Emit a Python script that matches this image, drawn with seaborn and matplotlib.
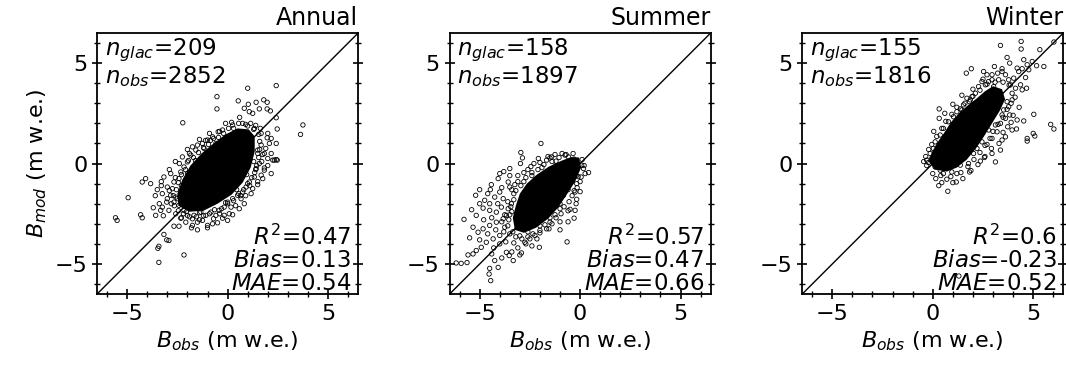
import numpy as np
import pandas as pd
import matplotlib
matplotlib.use("Agg")
import matplotlib.pyplot as plt
import seaborn as sns
from matplotlib.ticker import MultipleLocator

seasons = ["Annual", "Summer", "Winter"]
n_glac = [209, 158, 155]
n_obs = [2852, 1897, 1816]
r2 = ["0.47", "0.57", "0.6"]
bias = ["0.13", "0.47", "-0.23"]
mae = ["0.54", "0.66", "0.52"]

# outline of the region where the markers overlap into solid black
annual_core = [(-2.45, -2.1), (-1.9, -2.4), (-1.2, -2.35), (-0.5, -2.0), (0.2, -1.55),
               (0.75, -0.95), (1.15, -0.2), (1.35, 0.6), (1.35, 1.35), (1.05, 1.7),
               (0.5, 1.75), (-0.1, 1.45), (-0.7, 1.0), (-1.3, 0.5), (-1.85, -0.1),
               (-2.25, -0.8), (-2.5, -1.5)]
summer_core = [(-0.05, 0.3), (0.05, -0.2), (-0.25, -0.9), (-0.7, -1.6), (-1.1, -2.2),
               (-1.6, -2.75), (-2.2, -3.2), (-2.8, -3.45), (-3.25, -3.3), (-3.35, -2.7),
               (-3.2, -2.1), (-3.0, -1.5), (-2.65, -1.0), (-2.15, -0.55), (-1.55, -0.15),
               (-0.9, 0.15), (-0.45, 0.32)]
winter_core = [(-0.2, 0.1), (0.1, -0.3), (0.7, -0.4), (1.2, -0.2), (1.7, 0.2),
               (2.15, 0.75), (2.55, 1.35), (2.95, 2.0), (3.35, 2.65), (3.6, 3.2),
               (3.45, 3.7), (3.0, 3.85), (2.6, 3.6), (2.2, 3.25), (1.75, 2.9),
               (1.3, 2.5), (0.9, 2.05), (0.55, 1.5), (0.2, 1.0), (-0.05, 0.55)]

# individual points (B_obs, B_mod)
annual_pts = [
    (0.25, 1.92), (-0.25, 1.67), (-0.47, 1.58), (0.75, 2.0), (1.0, 1.87), (1.33, 1.75),
    (1.63, 1.75), (1.67, 1.5), (1.97, 1.28), (2.17, 1.25), (2.08, 1.0), (2.42, 1.0),
    (2.47, 1.72), (1.67, 0.92), (1.5, 0.67), (1.83, 0.5), (2.17, 0.5), (2.0, 0.25),
    (2.33, 0.17), (2.47, 0.17), (1.58, 0.0), (1.83, -0.22), (1.42, -0.25), (1.67, -0.58),
    (1.33, -0.67), (1.08, -0.92), (1.25, -1.25), (0.92, -1.17), (0.75, -1.42), (0.5, -1.58),
    (0.25, -1.75), (0.67, -1.75), (0.0, -1.92), (0.17, -2.17), (-0.17, -2.17), (-0.42, -2.33),
    (0.08, -2.5), (-0.17, -2.58), (-0.58, -2.58), (-0.83, -2.42), (-1.08, -2.58), (-1.33, -2.42),
    (-1.67, -2.58), (-1.25, -2.83), (-0.75, -3.0), (-1.0, -3.08), (-1.5, -2.92), (-1.75, -2.75),
    (-2.0, -2.58), (-2.17, -2.33), (-2.42, -2.08), (-2.67, -1.92), (-2.58, -1.67), (-2.83, -1.58),
    (-3.0, -1.75), (-2.75, -1.25), (-3.0, -1.17), (-2.67, -0.92), (-2.42, -0.75), (-2.83, -0.5),
    (-3.17, -0.67), (-2.33, -0.42), (-2.17, -0.17), (-2.0, 0.08), (-2.25, 0.33), (-1.83, 0.42),
    (-1.58, 0.67), (-1.75, 0.83), (-1.5, 0.92), (-1.25, 1.0), (-1.17, 0.75), (-1.0, 1.17),
    (-0.75, 1.33), (-0.58, 1.0),
    (-2.23, 2.03), (-0.53, 2.72), (-0.53, 3.33), (0.53, 3.12), (1.0, 3.75), (2.42, 3.88),
    (0.83, 2.75), (1.03, 2.95), (1.42, 3.05), (1.58, 2.72), (1.8, 3.17), (1.97, 3.05),
    (1.08, 2.58), (1.25, 2.5), (1.97, 2.72), (2.13, 2.62), (2.42, 2.28), (3.75, 1.92),
    (3.63, 1.45),
    (-3.25, -1.5), (-3.03, -1.92), (-3.25, -2.17), (-2.92, -2.33), (-2.58, -2.5), (-2.33, -2.72),
    (-2.08, -2.92), (-1.75, -3.08), (-0.5, -2.95), (-0.25, -2.72), (0.0, -2.83), (0.25, -2.55),
    (0.58, -2.25), (0.83, -2.0), (1.17, -1.5), (1.5, -1.05), (1.75, -0.75), (2.17, -0.5),
    (-4.25, -0.92), (-4.08, -0.75), (-3.83, -1.0), (-4.95, -1.7), (-5.58, -2.7), (-5.5, -2.83),
    (-4.33, -2.55), (-4.25, -2.7), (-3.58, -2.58), (-3.33, -2.33), (-3.17, -3.53), (-3.03, -3.8),
    (-2.92, -3.83), (-3.42, -4.12), (-3.47, -4.22), (-3.42, -4.92), (-2.17, -4.55), (-2.67, -3.12),
    (-2.42, -3.12), (2.25, 0.17), (2.42, 0.2), (1.83, -0.33), (-3.3, -0.9), (-3.5, -1.3),
    (-3.6, -1.6), (-3.4, -2.0), (-3.7, -2.2), (-3.2, -2.6), (-1.8, -3.2), (-1.5, -3.3),
    (-1.0, -3.2),
    (-0.3, -2.25), (0.0, -2.0), (0.3, -1.85), (0.55, -1.5), (0.8, -1.3), (1.0, -1.0),
    (1.2, -0.7), (1.35, -0.45), (1.45, -0.1), (1.55, 0.3), (1.6, 0.7), (1.6, 1.1),
    (1.55, 1.45), (1.4, 1.9), (1.15, 2.0), (0.9, 1.95), (0.55, 2.0), (0.3, 1.75),
    (0.05, 1.75), (-0.2, 1.5), (-0.45, 1.3), (-0.7, 1.25), (-0.95, 0.95), (-1.2, 0.8),
    (-1.45, 0.55), (-1.7, 0.3), (-1.95, 0.15), (-2.1, -0.3), (-2.3, -0.55), (-2.45, -0.95),
    (-2.55, -1.3), (-2.7, -1.6), (-2.65, -2.1), (-2.45, -2.35), (-2.2, -2.5), (-1.9, -2.65),
    (-1.55, -2.65), (-1.2, -2.6), (-0.9, -2.5), (-0.65, -2.3), (0.45, -1.3), (0.95, -0.55),
    (1.3, 0.1), (1.5, 0.5), (-0.85, 1.15), (-1.6, 0.15), (-2.0, -0.5), (-2.3, -1.1),
    (-2.5, -1.75), (-2.05, -2.4), (-1.4, -2.45), (-0.1, -1.95), (0.65, -1.6), (1.1, -1.1),
    (1.4, -0.3), (1.7, 0.1), (1.75, 0.45), (1.3, 1.7), (0.2, 2.05), (-0.4, 1.6),
    (-1.1, 1.15), (-1.9, 0.5), (-2.4, 0.0), (-2.6, -0.7), (-2.9, -1.35), (-2.8, -2.0),
    (-2.3, -2.7), (-1.4, -2.8), (-0.7, -2.75), (-0.4, -2.5), (0.4, -2.1), (0.9, -1.6),
    (1.5, -0.9), (2.0, -0.1), (1.9, 0.75), (2.0, 1.5), (0.6, 2.3), (-0.1, 2.0),
    (-0.9, 1.5), (-1.4, 1.2), (-2.0, 0.7), (-2.6, 0.1), (-2.9, -0.3), (-3.3, -1.1),
]
summer_pts = [
    (-1.95, 1.0), (-2.95, 0.55), (-2.87, 0.28), (-2.97, 0.0), (-2.08, 0.25), (-1.67, 0.17),
    (-1.5, 0.28), (-1.42, 0.33), (-1.2, 0.12), (-0.75, 0.42), (-0.58, 0.33), (-0.3, 0.22),
    (0.08, -0.08), (0.42, -0.45), (0.17, -0.25), (0.05, -0.67), (-0.17, -1.0), (-0.25, -1.42),
    (-0.17, -1.78), (-0.25, -2.33), (-0.3, -2.72), (-0.5, -2.28), (-0.83, -1.58), (-1.0, -2.25),
    (-1.25, -2.55), (-1.5, -2.92), (-2.03, -4.17), (-1.67, -3.25), (-2.0, -3.33), (-2.25, -3.58),
    (-2.5, -3.75), (-2.75, -3.92), (-2.92, -4.45), (-3.0, -4.55), (-3.33, -4.83), (-3.53, -4.58),
    (-3.67, -4.42), (-4.5, -5.22), (-4.53, -5.5), (-4.45, -5.83), (-4.08, -5.17), (-4.25, -4.83),
    (-3.9, -4.7),
    (-4.0, -0.5), (-4.08, -0.75), (-4.42, -1.05), (-4.47, -1.3), (-5.0, -1.3), (-5.2, -1.58),
    (-5.78, -2.78), (-4.75, -1.83), (-4.5, -2.0), (-4.83, -2.22), (-4.25, -1.67), (-3.83, -1.75),
    (-4.0, -1.42), (-3.58, -0.92), (-3.5, -1.17), (-3.25, -1.05), (-3.92, -2.17), (-4.17, -2.42),
    (-4.5, -2.33), (-5.17, -2.58), (-5.33, -3.17), (-5.08, -3.42), (-4.83, -3.25), (-4.5, -3.08),
    (-4.17, -2.92), (-3.83, -2.75), (-3.67, -2.58), (-3.58, -2.25), (-3.42, -2.0), (-3.75, -3.17),
    (-4.0, -3.58), (-4.33, -3.75), (-4.67, -3.92), (-4.92, -4.17), (-5.17, -4.33), (-5.33, -4.5),
    (-5.58, -4.55), (-6.17, -4.95), (-5.92, -4.97), (-5.63, -4.93), (-0.65, -3.9),
    (-3.3, -1.5), (-3.4, -2.4), (-3.35, -3.4), (-3.0, -3.6), (-2.6, -3.4), (-2.0, -3.1),
    (-1.5, -2.7), (-1.0, -2.0), (-0.6, -1.3), (-0.2, -0.6), (-2.4, -0.6), (-2.8, -0.9),
    (-1.9, -0.2), (-1.2, -0.1), (-3.1, -0.6), (-2.6, -0.3), (-2.3, 0.0), (-3.5, -0.25),
    (0.2, -0.1), (0.25, -0.5), (0.0, -0.9), (-0.15, -1.2), (-0.4, -1.6), (-0.55, -1.9),
    (-0.8, -2.15), (-0.95, -2.5), (-1.2, -2.7), (-1.4, -3.0), (-1.75, -3.05), (-2.0, -3.45),
    (-2.35, -3.5), (-2.6, -3.65), (-2.9, -3.75), (-3.2, -3.65), (-3.5, -3.5), (-3.6, -3.1),
    (-3.55, -2.8), (-3.5, -2.55), (-3.45, -2.15), (-3.3, -1.8), (-3.2, -1.35), (-2.95, -1.1),
    (-2.7, -0.7), (-2.4, -0.45), (-2.1, -0.3), (-1.8, -0.05), (-1.4, 0.1), (-1.05, 0.3),
    (-0.7, 0.45), (-0.35, 0.5), (0.1, 0.2), (-0.1, -0.65), (-0.3, -1.35), (-0.6, -2.35),
    (-1.0, -2.9), (-1.55, -3.25), (-2.15, -3.75), (-2.7, -4.0), (-3.3, -3.95), (-3.8, -3.4),
    (-3.75, -2.55), (-3.6, -1.9), (-3.4, -1.3), (-3.1, -0.9), (-2.8, -0.45), (-2.45, -0.15),
    (-2.0, 0.05), (-1.6, 0.35), (-1.25, 0.45), (-0.9, 0.5), (-3.9, -2.9), (-4.2, -3.3),
    (-4.4, -2.7), (-4.1, -2.0), (-3.9, -1.2), (-4.6, -3.5), (-4.8, -2.8), (-4.3, -4.2),
    (-3.7, -3.9), (-3.1, -4.2), (-2.4, -4.1), (-3.5, -0.6), (-3.8, -0.4), (-4.6, -1.5),
    (-5.0, -2.0), (-5.4, -2.3), (-5.5, -3.7), (-5.0, -3.8), (-4.4, -4.5), (-4.0, -4.0),
    (-3.4, -4.4), (-1.0, -3.3), (-0.6, -2.9), (-0.2, -2.0), (0.0, -1.4),
]
winter_pts = [
    (1.7, 3.25), (1.95, 3.33), (1.83, 3.08), (2.28, 3.83), (2.45, 4.08), (2.62, 3.92),
    (2.78, 4.08), (2.95, 4.17), (3.03, 3.83), (3.28, 4.17), (3.45, 4.58), (3.62, 4.42),
    (3.78, 4.17), (3.87, 3.92), (4.03, 4.25), (4.12, 3.75), (4.37, 3.92), (4.45, 3.67),
    (4.67, 3.75), (4.28, 4.58), (4.2, 4.75), (4.45, 4.72), (4.7, 4.92), (4.78, 4.67),
    (4.62, 4.28), (3.45, 4.72), (3.23, 4.5), (3.07, 4.83), (2.53, 4.58), (2.7, 4.42),
    (2.95, 4.42), (1.92, 4.72), (1.67, 4.5), (3.7, 5.28), (3.83, 5.0), (3.37, 5.88),
    (4.4, 6.08), (4.4, 5.7), (5.33, 5.67), (6.03, 6.05), (4.53, 5.17), (4.95, 5.08),
    (5.17, 4.87), (5.53, 4.83),
    (3.7, 3.08), (3.95, 3.17), (3.78, 2.83), (3.53, 2.67), (3.83, 2.42), (3.62, 2.25),
    (3.45, 2.42), (3.37, 2.0), (3.73, 1.83), (3.95, 1.67), (4.17, 1.72), (4.2, 2.17),
    (4.53, 2.12), (5.03, 2.45), (5.87, 1.95), (6.03, 1.72), (5.0, 1.5), (5.08, 1.37),
    (4.7, 1.25), (4.7, 1.12), (3.62, 1.33), (3.45, 1.17), (3.37, 0.67), (3.12, 0.08),
    (2.92, 0.75), (2.7, 0.95), (2.57, 0.3), (2.37, 0.12), (2.95, 1.25), (3.2, 1.58),
    (3.12, 1.92), (2.78, 1.67), (2.45, 1.08), (2.2, 0.75), (2.03, 0.5), (1.83, -0.42),
    (1.78, 0.0), (1.53, 0.25), (1.37, -0.08), (1.17, -0.92), (0.7, -0.78), (0.75, -1.38),
    (0.53, -0.5), (1.2, -0.5), (0.95, -0.42), (0.37, -0.33), (0.12, -0.17), (-0.3, 0.17),
    (-0.22, 0.05), (-0.05, 0.25),
    (0.32, 2.72), (0.32, 2.25), (1.37, 2.72), (0.78, 2.08), (0.53, 1.75), (0.37, 1.42),
    (0.12, 1.08), (0.03, 0.75), (-0.13, 0.5), (1.03, 2.33), (1.2, 2.58), (1.53, 2.92),
    (1.45, 2.67), (1.87, 3.17), (2.12, 3.5), (1.3, -5.6),
    (-0.35, 0.35), (-0.3, -0.1), (0.0, -0.5), (0.4, -0.6), (0.9, -0.65), (1.4, -0.45),
    (1.75, -0.15), (2.05, 0.2), (2.35, 0.55), (2.6, 0.9), (2.85, 1.25), (3.0, 1.6),
    (3.25, 1.95), (3.5, 2.3), (3.7, 2.7), (3.9, 3.0), (3.95, 3.5), (3.8, 3.9),
    (3.5, 4.05), (3.1, 4.05), (2.7, 3.95), (2.35, 3.65), (2.0, 3.35), (1.6, 3.0),
    (1.2, 2.8), (0.95, 2.45), (0.65, 2.1), (0.45, 1.75), (0.2, 1.35), (-0.05, 0.95),
    (-0.2, 0.7), (0.05, 1.6), (0.6, 2.5), (1.0, 2.95), (1.45, 3.4), (2.0, 3.7),
    (2.5, 4.2), (4.1, 3.3), (4.3, 2.8), (4.0, 2.4), (3.9, 2.05), (3.5, 1.55),
    (3.3, 1.0), (2.95, 0.5), (2.6, 0.35), (2.25, -0.05), (1.9, -0.35), (1.5, -0.75),
    (1.0, -0.95), (0.45, -0.95), (0.15, -0.75), (-0.45, 0.1), (0.3, -1.1),
]

cores = [annual_core, summer_core, winter_core]
points = [annual_pts, summer_pts, winter_pts]
lim = [-6.5, 6.5]

sns.set_style("ticks")
plt.rcParams["font.family"] = ["DejaVu Sans"]
plt.rcParams["mathtext.fontset"] = "dejavusans"
for key in ["text.color", "axes.labelcolor", "xtick.color", "ytick.color", "axes.edgecolor"]:
    plt.rcParams[key] = "black"

fig = plt.figure(figsize=(10.66, 3.79), dpi=100)
lefts = [0.091, 0.4217, 0.7525]

for i, season in enumerate(seasons):
    ax = fig.add_axes([lefts[i], 0.224, 0.245, 0.689])
    core = np.array(cores[i])
    ax.fill(core[:, 0], core[:, 1], color="black", lw=0, zorder=2)
    df = pd.DataFrame(points[i], columns=["obs", "mod"])
    sns.scatterplot(data=df, x="obs", y="mod", ax=ax, marker="o", s=10,
                    facecolor="none", edgecolor="black", linewidth=0.6, zorder=3)
    ax.plot(lim, lim, color="black", lw=1, zorder=4)

    ax.set_xlim(lim)
    ax.set_ylim(lim)
    for axis in (ax.xaxis, ax.yaxis):
        axis.set_major_locator(MultipleLocator(5))
        axis.set_minor_locator(MultipleLocator(1))
    ax.tick_params(which="both", direction="inout", right=True, labelsize=16)
    ax.tick_params(which="major", length=7, width=1.2)
    ax.tick_params(which="minor", length=4, width=1)
    for sp in ax.spines.values():
        sp.set_linewidth(1.3)

    ax.set_title(season, loc="right", fontsize=17, pad=6)
    ax.set_xlabel("$B_{obs}$ (m w.e.)", fontsize=16)
    if i == 0:
        ax.set_ylabel("$B_{mod}$ (m w.e.)", fontsize=16)
    else:
        ax.set_ylabel("")

    ax.text(0.03, 0.985, f"$n_{{glac}}$={n_glac[i]}\n$n_{{obs}}$={n_obs[i]}",
            transform=ax.transAxes, ha="left", va="top", fontsize=16.5,
            linespacing=1.0, zorder=5)
    ax.text(0.975, -0.005, f"$R^2$={r2[i]}\n$Bias$={bias[i]}\n$MAE$={mae[i]}",
            transform=ax.transAxes, ha="right", va="bottom", fontsize=16.5,
            multialignment="right", linespacing=1.0, zorder=5)

fig.savefig("out.png", dpi=100)
